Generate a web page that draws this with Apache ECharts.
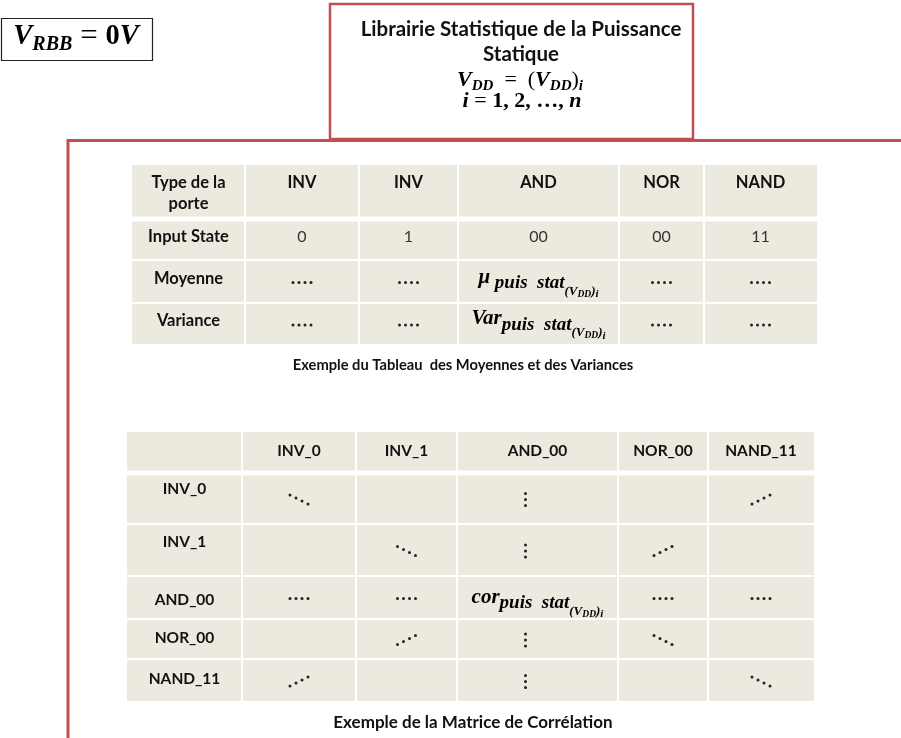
<!DOCTYPE html>
<html><head><meta charset="utf-8">
<script src="https://cdn.jsdelivr.net/npm/echarts@6/dist/echarts.min.js"></script>
<style>html,body{margin:0;padding:0;background:#fff}#c{width:901px;height:738px}</style>
</head><body><div id="c"></div>
<script>
// ---------- DATA ----------
const tbl1Header = ['Type de la\nporte', 'INV', 'INV', 'AND', 'NOR', 'NAND'];
const tbl1RowLabels = ['Input State', 'Moyenne', 'Variance'];
const tbl1InputState = ['0', '1', '00', '00', '11'];
const tbl1Moyenne = ['····', '····', 'μ', '····', '····'];
const tbl1Variance = ['····', '····', 'Var', '····', '····'];

const tbl2Header = ['', 'INV_0', 'INV_1', 'AND_00', 'NOR_00', 'NAND_11'];
const tbl2RowLabels = ['INV_0', 'INV_1', 'AND_00', 'NOR_00', 'NAND_11'];
const tbl2Row1 = ['⋱', '', '⋮', '', '⋰'];
const tbl2Row2 = ['', '⋱', '⋮', '⋰', ''];
const tbl2Row3 = ['····', '····', 'cor', '····', '····'];
const tbl2Row4 = ['', '⋰', '⋮', '⋱', ''];
const tbl2Row5 = ['⋰', '', '⋮', '', '⋱'];

const titleLines = ['Librairie Statistique de la Puissance', 'Statique'];
const caption1 = 'Exemple du Tableau  des Moyennes et des Variances';
const caption2 = 'Exemple de la Matrice de Corrélation';

// ---------- LAYOUT / STYLE ----------
const RED = '#C0504D';
const CELL = '#ECEADF';
const SANS = 'Lato';
const SERIF = 'Liberation Serif';
const L1 = {left: 132, top: 165, colW: [113, 114, 99, 161, 85, 113], rowH: [54, 41, 43, 42]};
const L2 = {left: 127, top: 432, colW: [115, 114, 101, 161, 90, 106], rowH: [41, 51, 52, 43, 40, 43]};
const L2labelDy = [-10, -8, 2, -1, -2];

function mathStyle(size, pad, weight, style) {
  return {fontFamily: SERIF, fontStyle: style || 'italic', fontWeight: weight || 'bold',
    fontSize: size, color: '#111', verticalAlign: 'middle', padding: pad || [0, 0, 0, 0]};
}
const cellRich = {
  m: mathStyle(21),
  s1: mathStyle(19, [12, 0, 0, 0]),
  s2: mathStyle(13, [28, 0, 0, 0]),
  s3: mathStyle(9.5, [34, 0, 0, 0]),
  s4: mathStyle(11, [34, 0, 0, 0])
};
const formulas = {
  'μ': '{m|μ}{s1| puis  stat}{s2|(V}{s3|DD}{s2|)}{s4|i}',
  'Var': '{m|Var}{s1|puis  stat}{s2|(V}{s3|DD}{s2|)}{s4|i}',
  'cor': '{m|cor}{s1|puis  stat}{s2|(V}{s3|DD}{s2|)}{s4|i}'
};

function buildCells(header, labels, rows) {
  const out = [];
  header.forEach((h, c) => out.push({c, r: 0, text: h, kind: 'head'}));
  rows.forEach((row, i) => {
    out.push({c: 0, r: i + 1, text: labels[i], kind: 'label'});
    row.forEach((v, j) => out.push({c: j + 1, r: i + 1, text: v, kind: 'val'}));
  });
  return out;
}
const cells1 = buildCells(tbl1Header, tbl1RowLabels, [tbl1InputState, tbl1Moyenne, tbl1Variance]);
const cells2 = buildCells(tbl2Header, tbl2RowLabels, [tbl2Row1, tbl2Row2, tbl2Row3, tbl2Row4, tbl2Row5]);

function cum(a) { const o = [0]; a.forEach(v => o.push(o[o.length - 1] + v)); return o; }
const sum = a => a.reduce((s, v) => s + v, 0);

function dots(kind, cx, cy) {
  let pts = [];
  if (kind === '····') pts = [[-9, 0], [-3, 0], [3, 0], [9, 0]];
  else if (kind === '⋮') pts = [[-12, -6], [-12, 0], [-12, 6]];
  else if (kind === '⋱') pts = [[-9, -4.5], [-3, -1.5], [3, 1.5], [9, 4.5]];
  else if (kind === '⋰') pts = [[-9, 4.5], [-3, 1.5], [3, -1.5], [9, -4.5]];
  return pts.map(p => ({type: 'circle', shape: {cx: cx + p[0], cy: cy + p[1], r: 1.5}, style: {fill: '#222'}}));
}

function makeRender(L, cells, tableNo) {
  const xs = cum(L.colW), ys = cum(L.rowH);
  return function (params, api) {
    const c = api.value(0), r = api.value(1);
    const cell = cells[params.dataIndex];
    const p0 = api.coord([xs[c], ys[r]]);
    const p1 = api.coord([xs[c + 1], ys[r + 1]]);
    const gt = r === 1 ? 2.5 : (r === 0 ? 0 : 1);
    const gb = r === 0 ? 2.5 : 1;
    const gl = c === 0 ? 0 : 1, gr = c === L.colW.length - 1 ? 0 : 1;
    const children = [{
      type: 'rect',
      shape: {x: p0[0] + gl, y: p0[1] + gt, width: p1[0] - p0[0] - gl - gr, height: p1[1] - p0[1] - gt - gb},
      style: {fill: CELL}
    }];
    const cx = (p0[0] + p1[0]) / 2, cy = (p0[1] + p1[1]) / 2;
    const t = cell.text;
    if (!t) return {type: 'group', children};
    if (['····', '⋮', '⋱', '⋰'].indexOf(t) >= 0) {
      return {type: 'group', children: children.concat(dots(t, cx, cy + 1))};
    }
    if (formulas[t]) {
      const dy = tableNo === 1 ? (t === 'μ' ? -4 : -5) : 0;
      children.push({type: 'text', style: {text: formulas[t], rich: cellRich, x: cx, y: cy + dy,
        align: 'center', verticalAlign: 'middle', textAlign: 'center', textVerticalAlign: 'middle'}});
      return {type: 'group', children};
    }
    const bold = cell.kind !== 'val';
    let y, va = 'middle', fs;
    if (tableNo === 1) {
      fs = bold ? 16.5 : 16;
      if (r === 0) { y = p0[1] + 7; va = 'top'; } else y = cy - 3;
    } else {
      fs = bold ? 15.5 : 16;
      if (r === 0) y = cy - 2; else if (c === 0) y = cy + L2labelDy[r - 1]; else y = cy - 2;
    }
    children.push({type: 'text', style: {text: t, x: cx, y: y, fill: bold ? '#111' : '#333',
      fontFamily: SANS, fontWeight: bold ? 'bold' : 'normal', fontSize: fs, lineHeight: 21,
      align: 'center', verticalAlign: va, textAlign: 'center', textVerticalAlign: va}});
    return {type: 'group', children};
  };
}

function gridFor(L) {
  return {left: L.left, top: L.top, width: sum(L.colW), height: sum(L.rowH), containLabel: false, show: false};
}
function axisX(L, i) {
  return {type: 'value', gridIndex: i, min: 0, max: sum(L.colW), show: false};
}
function axisY(L, i) {
  return {type: 'value', gridIndex: i, min: 0, max: sum(L.rowH), inverse: true, show: false};
}

const topRich = {
  V: mathStyle(22),
  sub: mathStyle(15, [12, 0, 0, 0]),
  op: mathStyle(22, null, 'normal', 'normal'),
  B: mathStyle(22, null, 'bold', 'normal')
};
const vrbbRich = {
  V: mathStyle(28.5),
  sub: mathStyle(20, [15, 0, 0, 0]),
  op: mathStyle(31, null, 'normal', 'normal'),
  B: mathStyle(28.5, null, 'bold', 'normal')
};

const chart = echarts.init(document.getElementById('c'), null, {renderer: 'canvas'});
chart.setOption({
  backgroundColor: '#ffffff',
  animation: false,
  grid: [gridFor(L1), gridFor(L2)],
  xAxis: [axisX(L1, 0), axisX(L2, 1)],
  yAxis: [axisY(L1, 0), axisY(L2, 1)],
  series: [
    {type: 'custom', xAxisIndex: 0, yAxisIndex: 0, renderItem: makeRender(L1, cells1, 1),
      data: cells1.map(d => [d.c, d.r]), silent: true},
    {type: 'custom', xAxisIndex: 1, yAxisIndex: 1, renderItem: makeRender(L2, cells2, 2),
      data: cells2.map(d => [d.c, d.r]), silent: true}
  ],
  graphic: [
    {type: 'rect', shape: {x: 1.5, y: 18.5, width: 151, height: 42}, style: {fill: '#fff', stroke: '#222', lineWidth: 1.2}},
    {type: 'text', x: 76, y: 37, style: {text: '{V|V}{sub|RBB}{op| = }{B|0}{V|V}', rich: vrbbRich,
      align: 'center', verticalAlign: 'middle', textAlign: 'center', textVerticalAlign: 'middle'}},
    {type: 'polyline', shape: {points: [[68, 740], [68, 140.5], [903, 140.5]]}, style: {stroke: RED, lineWidth: 3, fill: null}},
    {type: 'rect', shape: {x: 330, y: 4, width: 363, height: 135}, style: {fill: '#fff', stroke: RED, lineWidth: 2.5}},
    {type: 'text', x: 521, y: 29, style: {text: titleLines[0], fontFamily: SANS, fontWeight: 'bold', fontSize: 20.5, fill: '#111',
      align: 'center', verticalAlign: 'middle', textAlign: 'center', textVerticalAlign: 'middle'}},
    {type: 'text', x: 521, y: 54, style: {text: titleLines[1], fontFamily: SANS, fontWeight: 'bold', fontSize: 20.5, fill: '#111',
      align: 'center', verticalAlign: 'middle', textAlign: 'center', textVerticalAlign: 'middle'}},
    {type: 'text', x: 520, y: 80, style: {text: '{V|V}{sub|DD}{op|  =  (}{V|V}{sub|DD}{op|)}{sub|i}', rich: topRich,
      align: 'center', verticalAlign: 'middle', textAlign: 'center', textVerticalAlign: 'middle'}},
    {type: 'text', x: 522, y: 101, style: {text: '{V|i}{op| = }{B|1, 2, …, }{V|n}', rich: topRich,
      align: 'center', verticalAlign: 'middle', textAlign: 'center', textVerticalAlign: 'middle'}},
    {type: 'text', x: 463, y: 365, style: {text: caption1, fontFamily: SANS, fontWeight: 'bold', fontSize: 14.7, fill: '#111',
      align: 'center', verticalAlign: 'middle', textAlign: 'center', textVerticalAlign: 'middle'}},
    {type: 'text', x: 473, y: 723, style: {text: caption2, fontFamily: SANS, fontWeight: 'bold', fontSize: 17, fill: '#111',
      align: 'center', verticalAlign: 'middle', textAlign: 'center', textVerticalAlign: 'middle'}}
  ]
});
</script>
</body></html>
